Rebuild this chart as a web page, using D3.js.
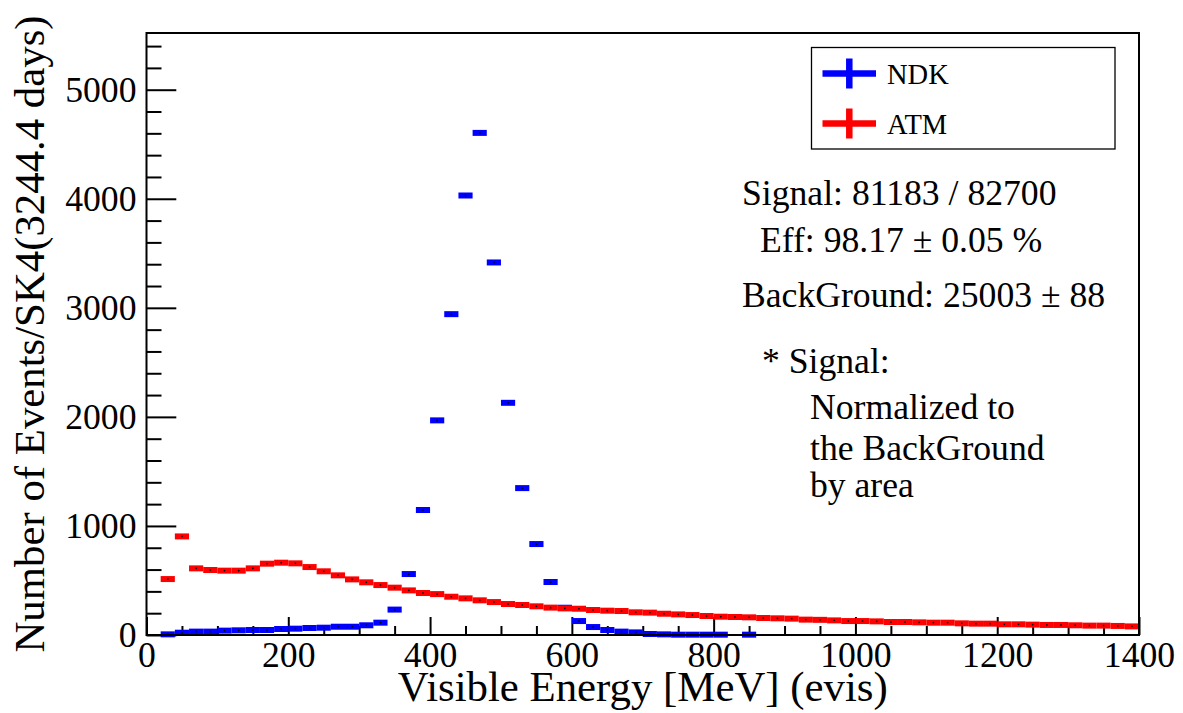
<!DOCTYPE html>
<html>
<head>
<meta charset="utf-8">
<script src="https://cdn.jsdelivr.net/npm/d3@7"></script>
<style>
  body { margin: 0; background: #fff; }
  svg text { font-family: "Liberation Serif", "Times New Roman", serif; fill: #000; }
</style>
</head>
<body>
<script>
//histogram binning (MeV)
var binStart = 20,
    binWidth = 20;

//ATM background, events per bin (centres 30 .. 1390)
var atmValues = [
    513, 904, 611, 596, 590, 590, 611, 654, 663, 657,
    623, 584, 547, 510, 483, 458, 434, 409, 385, 375,
    351, 336, 318, 302, 284, 275, 263, 251, 244, 241,
    229, 223, 220, 208, 205, 195, 189, 183, 174, 168,
    165, 162, 156, 153, 150, 141, 139, 134, 128, 128,
    125, 119, 119, 116, 113, 113, 107, 104, 104, 98,
    98, 95, 92, 92, 89, 86, 86, 83, 79
];

//NDK signal normalised to background, null = empty bin
var ndkValues = [
    6, 21, 31, 31, 40, 43, 46, 46, 55, 58,
    64, 67, 76, 76, 89, 113, 233, 559, 1146, 1968,
    2942, 4030, 4604, 3416, 2129, 1347, 834, 486, 250, 128,
    73, 46, 31, 24, 9, 6, 3, 3, 3, 3,
    null, 3
];

var xMajorTicks = [0, 200, 400, 600, 800, 1000, 1200, 1400];
var yMajorTicks = [0, 1000, 2000, 3000, 4000, 5000];

var seriesNames = ["NDK", "ATM"];
var seriesColors = ["#0000ff", "#ff0000"];

var infoLines = [
    {text: "Signal: 81183 / 82700", x: 742, y: 205},
    {text: "Eff: 98.17 \u00b1 0.05 %", x: 760, y: 252},
    {text: "BackGround: 25003 \u00b1 88", x: 742, y: 307},
    {text: "* Signal:", x: 762, y: 373},
    {text: "Normalized to", x: 810, y: 419},
    {text: "the BackGround", x: 810, y: 460},
    {text: "by area", x: 810, y: 497}
];

//canvas
var width = 1183,
    height = 713,
    frame = {left: 146.5, right: 1139, top: 33, bottom: 635};

var svg = d3.select("body")
    .append("svg")
    .attr("width", width)
    .attr("height", height);

var x = d3.scaleLinear()
    .domain([0, 1400])
    .range([frame.left, frame.right]);

var y = d3.scaleLinear()
    .domain([0, 5520])
    .range([frame.bottom, frame.top]);

var labelSize = 35.65,
    titleSize = 42.8;

//x axis: minor ticks every 50, major every 200
var xMinor = d3.range(0, 1401, 50).filter(function(v){ return v % 200 != 0; });
svg.append("g")
    .attr("transform", "translate(0," + frame.bottom + ")")
    .call(d3.axisBottom(x).tickValues(xMinor).tickFormat("").tickSizeInner(-9).tickSizeOuter(0))
    .call(function(g){ g.select(".domain").remove(); })
    .selectAll("line").attr("stroke", "#000").attr("stroke-width", 2);

var xAxis = svg.append("g")
    .attr("transform", "translate(0," + frame.bottom + ")")
    .call(d3.axisBottom(x).tickValues(xMajorTicks).tickFormat(d3.format("d")).tickSizeInner(-18).tickSizeOuter(0).tickPadding(7));
xAxis.select(".domain").remove();
xAxis.selectAll("line").attr("stroke", "#000").attr("stroke-width", 2);
xAxis.selectAll("text")
    .style("font-family", "'Liberation Serif', 'Times New Roman', serif")
    .style("font-size", labelSize + "px");

//y axis: minor ticks every 200, major every 1000
var yMinor = d3.range(0, 5520, 200).filter(function(v){ return v % 1000 != 0; });
svg.append("g")
    .attr("transform", "translate(" + frame.left + ",0)")
    .call(d3.axisLeft(y).tickValues(yMinor).tickFormat("").tickSizeInner(-15).tickSizeOuter(0))
    .call(function(g){ g.select(".domain").remove(); })
    .selectAll("line").attr("stroke", "#000").attr("stroke-width", 2);

var yAxis = svg.append("g")
    .attr("transform", "translate(" + frame.left + ",0)")
    .call(d3.axisLeft(y).tickValues(yMajorTicks).tickFormat(d3.format("d")).tickSizeInner(-29.8).tickSizeOuter(0).tickPadding(10));
yAxis.select(".domain").remove();
yAxis.selectAll("line").attr("stroke", "#000").attr("stroke-width", 2);
yAxis.selectAll("text")
    .style("font-family", "'Liberation Serif', 'Times New Roman', serif")
    .style("font-size", labelSize + "px");

//histogram points: horizontal bin-width bar plus a dot marker
function drawSeries(values, color, cls){
    var pts = values.map(function(v, i){
        return {c: binStart + binWidth * (i + 0.5), v: v};
    }).filter(function(d){ return d.v != null; });

    var g = svg.append("g").attr("class", cls);

    g.selectAll("line")
        .data(pts)
        .enter()
        .append("line")
        .attr("x1", function(d){ return x(d.c - binWidth / 2); })
        .attr("x2", function(d){ return x(d.c + binWidth / 2); })
        .attr("y1", function(d){ return y(d.v); })
        .attr("y2", function(d){ return y(d.v); })
        .attr("stroke", color)
        .attr("stroke-width", 6);

    g.selectAll("rect")
        .data(pts)
        .enter()
        .append("rect")
        .attr("x", function(d){ return x(d.c) - 0.75; })
        .attr("y", function(d){ return y(d.v) - 0.75; })
        .attr("width", 1.5)
        .attr("height", 1.5)
        .attr("fill", "#000");
}

drawSeries(ndkValues, seriesColors[0], "ndk");
drawSeries(atmValues, seriesColors[1], "atm");

//frame
svg.append("rect")
    .attr("x", frame.left)
    .attr("y", frame.top)
    .attr("width", frame.right - frame.left)
    .attr("height", frame.bottom - frame.top)
    .attr("fill", "none")
    .attr("stroke", "#000")
    .attr("stroke-width", 2);

//axis titles
svg.append("text")
    .attr("x", (frame.left + frame.right) / 2)
    .attr("y", 701)
    .attr("text-anchor", "middle")
    .style("font-size", titleSize + "px")
    .text("Visible Energy [MeV] (evis)");

svg.append("text")
    .attr("transform", "translate(44," + (frame.top + frame.bottom) / 2 + ") rotate(-90)")
    .attr("text-anchor", "middle")
    .style("font-size", titleSize + "px")
    .text("Number of Events/SK4(3244.4 days)");

//legend
var legend = svg.append("g").attr("class", "legend");
legend.append("rect")
    .attr("x", 811.5)
    .attr("y", 47.5)
    .attr("width", 303.5)
    .attr("height", 101.5)
    .attr("fill", "#fff")
    .attr("stroke", "#000")
    .attr("stroke-width", 1.3);

var legendRows = [73.5, 123.5];
seriesNames.forEach(function(name, i){
    var cy = legendRows[i];
    legend.append("line")
        .attr("x1", 822.5).attr("x2", 876)
        .attr("y1", cy).attr("y2", cy)
        .attr("stroke", seriesColors[i])
        .attr("stroke-width", 6.5);
    legend.append("line")
        .attr("x1", 849.3).attr("x2", 849.3)
        .attr("y1", cy - 15).attr("y2", cy + 15)
        .attr("stroke", seriesColors[i])
        .attr("stroke-width", 6.5);
    legend.append("text")
        .attr("x", 887)
        .attr("y", cy + 10.5)
        .style("font-size", "28.5px")
        .text(name);
});

//summary text
svg.selectAll(".info")
    .data(infoLines)
    .enter()
    .append("text")
    .attr("class", "info")
    .attr("x", function(d){ return d.x; })
    .attr("y", function(d){ return d.y; })
    .style("font-size", labelSize + "px")
    .text(function(d){ return d.text; });
</script>
</body>
</html>
